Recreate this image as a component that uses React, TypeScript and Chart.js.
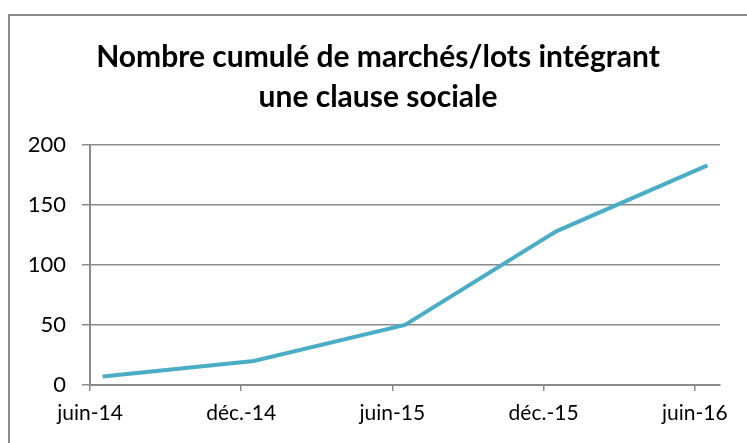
import React, { useEffect, useRef } from "react";
import { Chart, registerables } from "chart.js";

Chart.register(...registerables);

const titleLines = ["Nombre cumulé de marchés/lots intégrant", "une clause sociale"];
const categories = ["juin-14", "déc.-14", "juin-15", "déc.-15", "juin-16"];
const values = [7, 20, 50, 128, 183];
const yTicks = [0, 50, 100, 150, 200];
const monthsPerCategory = 6;
const totalMonths = 25;

const FONT = "Lato, 'Open Sans', sans-serif";
const GRID = "#8a8a8a";

const framePlugin = {
  id: "frame",
  beforeDraw(chart: any) {
    const ctx = chart.ctx;
    ctx.save();
    ctx.fillStyle = "#ffffff";
    ctx.fillRect(0, 0, chart.width, chart.height);
    ctx.strokeStyle = "#8c8c8c";
    ctx.lineWidth = 2;
    ctx.beginPath();
    ctx.moveTo(9, chart.height + 2);
    ctx.lineTo(9, 15);
    ctx.lineTo(chart.width + 2, 15);
    ctx.stroke();
    ctx.restore();
  },
  afterDraw(chart: any) {
    const ctx = chart.ctx;
    ctx.save();
    ctx.fillStyle = "#000000";
    ctx.font = `bold 30px ${FONT}`;
    ctx.textAlign = "center";
    ctx.textBaseline = "middle";
    titleLines.forEach((line, i) => {
      ctx.fillText(line, 378, 57 + i * 40);
    });
    ctx.restore();
  },
};

export default function App() {
  const ref = useRef<HTMLCanvasElement | null>(null);

  useEffect(() => {
    if (!ref.current) return;
    const points = values.map((v, i) => ({ x: i * monthsPerCategory + 0.5, y: v }));
    const chart = new Chart(ref.current, {
      type: "line",
      data: {
        datasets: [
          {
            data: points,
            borderColor: "#4BACC6",
            borderWidth: 4,
            pointRadius: 0,
            tension: 0,
            fill: false,
          },
        ],
      },
      options: {
        responsive: false,
        animation: false,
        layout: { padding: { left: 0, right: 27, top: 145, bottom: 0 } },
        plugins: {
          legend: { display: false },
          tooltip: { enabled: false },
          title: { display: false },
        },
        scales: {
          x: {
            type: "linear",
            min: 0,
            max: totalMonths,
            afterFit: (s: any) => {
              s.height = 58;
            },
            afterBuildTicks: (s: any) => {
              s.ticks = categories.map((_, i) => ({ value: i * monthsPerCategory }));
            },
            ticks: {
              autoSkip: false,
              maxRotation: 0,
              color: "#000000",
              padding: 10,
              font: { family: FONT, size: 21 },
              callback: (v: any) => categories[Math.round(Number(v) / monthsPerCategory)] ?? "",
            },
            grid: {
              display: true,
              drawOnChartArea: false,
              drawTicks: true,
              tickLength: 6,
              color: GRID,
              lineWidth: 1.5,
            },
            border: { display: true, color: GRID, width: 2 },
          },
          y: {
            min: 0,
            max: 200,
            afterFit: (s: any) => {
              s.width = 90;
            },
            afterBuildTicks: (s: any) => {
              s.ticks = yTicks.map((v) => ({ value: v }));
            },
            ticks: {
              color: "#000000",
              padding: 16,
              font: { family: FONT, size: 22 },
            },
            grid: {
              color: GRID,
              lineWidth: 1.5,
              tickLength: 8,
              drawTicks: true,
            },
            border: { display: true, color: GRID, width: 2 },
          },
        },
      },
      plugins: [framePlugin],
    });
    return () => chart.destroy();
  }, []);

  return (
    <canvas
      ref={ref}
      width={747}
      height={443}
      style={{ position: "fixed", left: 0, top: 0, width: 747, height: 443 }}
    />
  );
}
